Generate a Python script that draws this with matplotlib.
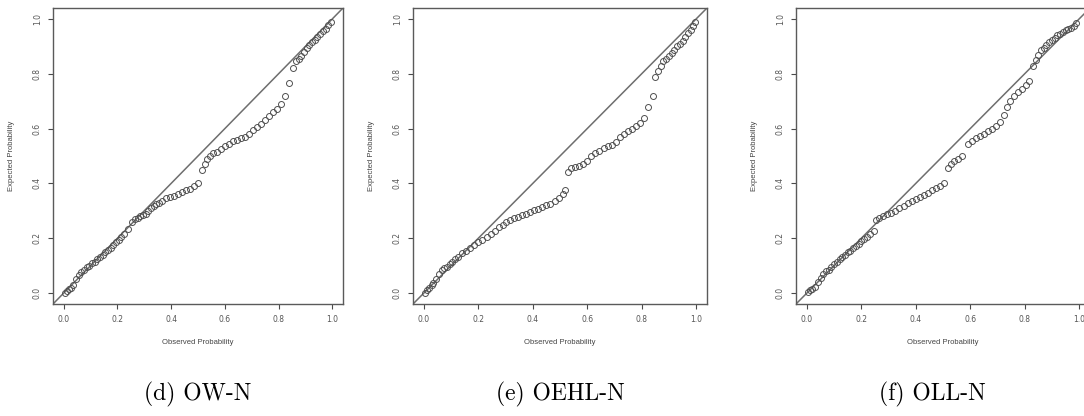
import numpy as np
import matplotlib.pyplot as plt

# P-P plot values (observed, expected)
ow_obs = [0.005, 0.012, 0.02, 0.028, 0.035, 0.045, 0.055, 0.065, 0.075, 0.085,
          0.095, 0.105, 0.115, 0.125, 0.135, 0.145, 0.155, 0.165, 0.175, 0.185,
          0.195, 0.205, 0.215, 0.225, 0.24, 0.255, 0.265, 0.275, 0.285, 0.295,
          0.305, 0.315, 0.325, 0.335, 0.345, 0.355, 0.365, 0.38, 0.395, 0.41,
          0.425, 0.44, 0.455, 0.47, 0.485, 0.5, 0.515, 0.525, 0.535, 0.545,
          0.555, 0.57, 0.585, 0.6, 0.615, 0.63, 0.645, 0.66, 0.675, 0.69,
          0.705, 0.72, 0.735, 0.75, 0.765, 0.78, 0.795, 0.81, 0.825, 0.84,
          0.855, 0.865, 0.875, 0.885, 0.895, 0.905, 0.915, 0.925, 0.935, 0.945,
          0.955, 0.965, 0.975, 0.985, 0.995]
ow_exp = [0.0, 0.008, 0.015, 0.02, 0.03, 0.05, 0.065, 0.075, 0.085, 0.095,
          0.1, 0.11, 0.115, 0.125, 0.13, 0.14, 0.15, 0.158, 0.165, 0.175,
          0.185, 0.195, 0.205, 0.215, 0.235, 0.26, 0.27, 0.275, 0.28, 0.285,
          0.29, 0.3, 0.31, 0.318, 0.325, 0.33, 0.337, 0.345, 0.35, 0.355,
          0.36, 0.37, 0.375, 0.38, 0.39, 0.4, 0.45, 0.47, 0.49, 0.5,
          0.51, 0.515, 0.525, 0.535, 0.545, 0.555, 0.56, 0.565, 0.57, 0.58,
          0.595, 0.605, 0.615, 0.63, 0.645, 0.66, 0.67, 0.69, 0.72, 0.765,
          0.82, 0.845, 0.855, 0.865, 0.88, 0.895, 0.905, 0.915, 0.925, 0.935,
          0.945, 0.955, 0.965, 0.978, 0.99]

oehl_obs = [0.005, 0.012, 0.02, 0.028, 0.035, 0.045, 0.055, 0.065, 0.075, 0.085,
            0.095, 0.105, 0.115, 0.125, 0.14, 0.155, 0.17, 0.185, 0.2, 0.215,
            0.23, 0.245, 0.26, 0.275, 0.29, 0.3, 0.315, 0.33, 0.345, 0.36,
            0.375, 0.39, 0.405, 0.42, 0.435, 0.45, 0.465, 0.48, 0.495, 0.51,
            0.52, 0.53, 0.54, 0.555, 0.57, 0.585, 0.6, 0.615, 0.63, 0.645,
            0.66, 0.675, 0.69, 0.705, 0.72, 0.735, 0.75, 0.765, 0.78, 0.795,
            0.81, 0.825, 0.84, 0.85, 0.86, 0.87, 0.88, 0.89, 0.9, 0.91,
            0.92, 0.93, 0.94, 0.95, 0.96, 0.97, 0.98, 0.99, 0.997]
oehl_exp = [0.0, 0.01, 0.02, 0.028, 0.035, 0.05, 0.07, 0.085, 0.09, 0.095,
            0.105, 0.115, 0.125, 0.13, 0.145, 0.155, 0.165, 0.175, 0.185, 0.195,
            0.205, 0.215, 0.228, 0.24, 0.25, 0.26, 0.265, 0.272, 0.278, 0.283,
            0.29, 0.295, 0.302, 0.308, 0.313, 0.32, 0.325, 0.335, 0.345, 0.36,
            0.375, 0.44, 0.455, 0.46, 0.465, 0.47, 0.48, 0.5, 0.51, 0.52,
            0.53, 0.535, 0.54, 0.55, 0.57, 0.58, 0.59, 0.6, 0.61, 0.62,
            0.64, 0.68, 0.72, 0.79, 0.81, 0.83, 0.845, 0.855, 0.865, 0.875,
            0.885, 0.9, 0.91, 0.92, 0.935, 0.95, 0.96, 0.975, 0.99]

oll_obs = [0.004, 0.012, 0.02, 0.03, 0.04, 0.05, 0.06, 0.07, 0.08, 0.09,
           0.1, 0.11, 0.12, 0.13, 0.14, 0.15, 0.16, 0.17, 0.18, 0.19,
           0.2, 0.21, 0.22, 0.23, 0.245, 0.255, 0.265, 0.28, 0.295, 0.31,
           0.325, 0.34, 0.355, 0.37, 0.385, 0.4, 0.415, 0.43, 0.445, 0.46,
           0.475, 0.49, 0.505, 0.52, 0.53, 0.54, 0.555, 0.57, 0.59, 0.605,
           0.62, 0.635, 0.65, 0.665, 0.68, 0.695, 0.71, 0.725, 0.735, 0.745,
           0.76, 0.775, 0.79, 0.805, 0.815, 0.83, 0.84, 0.85, 0.86, 0.87,
           0.88, 0.89, 0.9, 0.91, 0.92, 0.93, 0.94, 0.95, 0.96, 0.97,
           0.98, 0.99]
oll_exp = [0.004, 0.01, 0.015, 0.022, 0.04, 0.055, 0.07, 0.08, 0.085, 0.095,
           0.105, 0.115, 0.125, 0.13, 0.14, 0.148, 0.155, 0.165, 0.172, 0.18,
           0.19, 0.198, 0.205, 0.215, 0.225, 0.265, 0.275, 0.282, 0.287, 0.293,
           0.3, 0.31, 0.318, 0.327, 0.335, 0.342, 0.35, 0.357, 0.365, 0.375,
           0.385, 0.39, 0.4, 0.455, 0.47, 0.48, 0.49, 0.5, 0.545, 0.555,
           0.565, 0.572, 0.58, 0.59, 0.6, 0.61, 0.625, 0.65, 0.68, 0.7,
           0.72, 0.735, 0.745, 0.76, 0.775, 0.83, 0.85, 0.87, 0.885, 0.895,
           0.905, 0.915, 0.925, 0.932, 0.94, 0.945, 0.952, 0.958, 0.963, 0.968,
           0.975, 0.985]

captions = ['(d) OW-N', '(e) OEHL-N', '(f) OLL-N']
ticks = [0.0, 0.2, 0.4, 0.6, 0.8, 1.0]
tick_labels = ['0.0', '0.2', '0.4', '0.6', '0.8', '1.0']

W, H = 1084, 416
fig = plt.figure(figsize=(W / 100, H / 100), dpi=100)

# axes boxes in pixels: left, right, top, bottom
boxes = [(53, 343, 8, 304), (413, 707, 8, 304), (796, 1090, 8, 304)]
series = [(ow_obs, ow_exp), (oehl_obs, oehl_exp), (oll_obs, oll_exp)]
grey = '#4a4a4a'

for (l, r, t, b), (obs, exp), cap in zip(boxes, series, captions):
    ax = fig.add_axes([l / W, (H - b) / H, (r - l) / W, (b - t) / H])
    ax.axline((0, 0), slope=1, color='#6e6e6e', lw=1.1)
    ax.plot(obs, exp, 'o', mfc='none', mec='#505050', ms=4.3, mew=0.7)
    ax.set_xlim(-0.04, 1.04)
    ax.set_ylim(-0.04, 1.04)
    ax.set_xticks(ticks)
    ax.set_xticklabels(tick_labels)
    ax.set_yticks(ticks)
    ax.set_yticklabels(tick_labels, rotation=90, va='center')
    ax.tick_params(direction='out', length=3.5, width=0.8, color=grey,
                   labelsize=5.5, labelcolor='#555555', pad=4.5)
    for sp in ax.spines.values():
        sp.set_color('#5a5a5a')
        sp.set_linewidth(1.0)
    ax.set_xlabel('Observed Probability', fontsize=5.5, color='#444444',
                  family='Liberation Sans', labelpad=11)
    ax.set_ylabel('Expected Probability', fontsize=5.5, color='#444444',
                  family='Liberation Sans', labelpad=13)
    cx = (l + r) / 2 if r < W else (l + 1078) / 2 - 5
    fig.text(cx / W, 1 - 394 / H, cap, ha='center', va='center',
             family='cmr10', fontsize=17)

fig.savefig('out.png', dpi=100)
